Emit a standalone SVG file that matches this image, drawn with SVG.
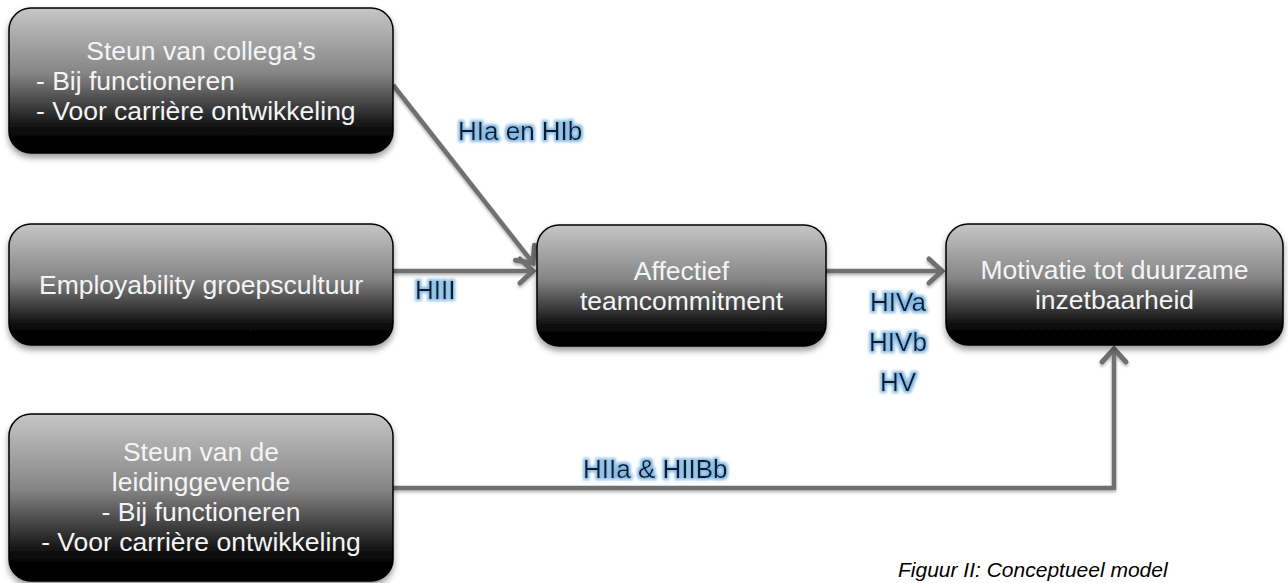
<svg xmlns="http://www.w3.org/2000/svg" width="1288" height="583" viewBox="0 0 1288 583">
<style>
.box{fill:url(#g);stroke:#000;stroke-width:1.5;filter:url(#sh)}
.nt{font-family:"Liberation Sans",Arial,sans-serif;font-size:26.5px;fill:#f4f4f4}
.c{text-anchor:middle}
.lb{font-family:"Liberation Sans",Arial,sans-serif;font-size:26px;fill:#0b1b33;filter:url(#glow)}
.cn{fill:none;stroke:#6f6f6f;stroke-width:4.5}
.cap{font-family:"Liberation Sans",Arial,sans-serif;font-size:21px;font-style:italic;fill:#000}
</style>
<defs>
<linearGradient id="g" x1="0" y1="0" x2="0" y2="1">
<stop offset="0" stop-color="#c6c6c6"/>
<stop offset="0.45" stop-color="#858585"/>
<stop offset="0.85" stop-color="#080808"/>
<stop offset="1" stop-color="#000"/>
</linearGradient>
<filter id="sh" x="-10%" y="-10%" width="120%" height="130%">
<feDropShadow dx="0" dy="4" stdDeviation="3" flood-color="#000" flood-opacity="0.4"/>
</filter>
<filter id="lsh" filterUnits="userSpaceOnUse" x="0" y="0" width="1288" height="583">
<feDropShadow dx="0" dy="2" stdDeviation="1.5" flood-color="#000" flood-opacity="0.3"/>
</filter>
<filter id="glow" x="-20%" y="-50%" width="140%" height="200%">
<feMorphology in="SourceAlpha" operator="dilate" radius="1.5" result="d"/>
<feGaussianBlur in="d" stdDeviation="1.6" result="b"/>
<feFlood flood-color="#7db5e2" flood-opacity="0.95"/>
<feComposite in2="b" operator="in" result="gl"/>
<feMerge><feMergeNode in="gl"/><feMergeNode in="SourceGraphic"/></feMerge>
</filter>
<marker id="ah" markerUnits="userSpaceOnUse" markerWidth="26" markerHeight="30" refX="16" refY="15" orient="auto" overflow="visible">
<path d="M3,3 L16,15 L3,27" fill="none" stroke="#6f6f6f" stroke-width="5" stroke-linecap="round" stroke-linejoin="miter"/>
</marker>
</defs>

<g id="connectors" filter="url(#lsh)">
<path class="cn" d="M393,85 L533,263" marker-end="url(#ah)"/>
<path class="cn" d="M393,271 L533,271" marker-end="url(#ah)"/>
<path class="cn" d="M826,271 L942,271" marker-end="url(#ah)"/>
<path class="cn" d="M393,488 L1114,488 L1114,349" marker-end="url(#ah)"/>
</g>

<g id="node-collegas">
<rect class="box" x="9" y="8" width="384" height="145" rx="22"/>
<text class="nt c" x="201" y="60">Steun van collega’s</text>
<text class="nt" x="36" y="90">- Bij functioneren</text>
<text class="nt" x="36" y="120">- Voor carrière ontwikkeling</text>
</g>

<g id="node-employability">
<rect class="box" x="9" y="224" width="384" height="121" rx="22"/>
<text class="nt c" x="201" y="294">Employability groepscultuur</text>
</g>

<g id="node-affectief">
<rect class="box" x="537" y="225" width="289" height="121" rx="22"/>
<text class="nt c" x="681.5" y="280">Affectief</text>
<text class="nt c" x="681.5" y="310">teamcommitment</text>
</g>

<g id="node-motivatie">
<rect class="box" x="946" y="224" width="337" height="121" rx="22"/>
<text class="nt c" x="1114.5" y="279">Motivatie tot duurzame</text>
<text class="nt c" x="1114.5" y="309">inzetbaarheid</text>
</g>

<g id="node-leidinggevende">
<rect class="box" x="9" y="414" width="384" height="167" rx="22"/>
<text class="nt c" x="201" y="461">Steun van de</text>
<text class="nt c" x="201" y="491">leidinggevende</text>
<text class="nt c" x="201" y="521">- Bij functioneren</text>
<text class="nt c" x="201" y="551">- Voor carrière ontwikkeling</text>
</g>

<g id="labels">
<text class="lb" x="458" y="140">HIa en HIb</text>
<text class="lb" x="415" y="299">HIII</text>
<text class="lb c" x="898" y="311">HIVa</text>
<text class="lb c" x="898" y="351">HIVb</text>
<text class="lb c" x="898" y="391">HV</text>
<text class="lb" x="583" y="478">HIIa &amp; HIIBb</text>
</g>

<text class="cap" x="898" y="577">Figuur II: Conceptueel model</text>
</svg>
